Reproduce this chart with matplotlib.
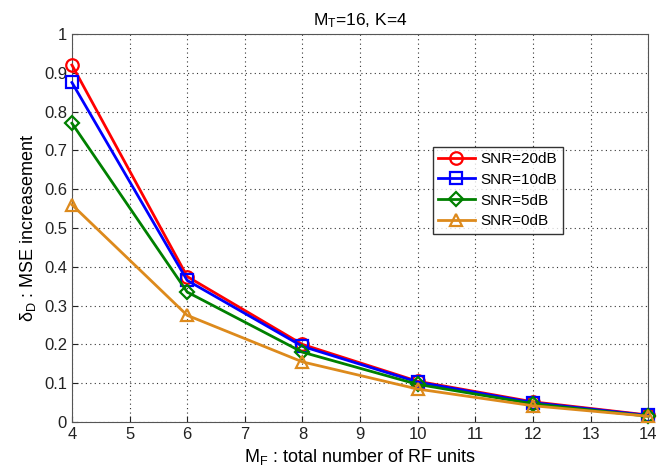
import matplotlib
matplotlib.use("Agg")
import matplotlib.pyplot as plt

# ===== Data ===================================================================

numRF = [4, 6, 8, 10, 12, 14]

snr20 = [0.920, 0.375, 0.200, 0.105, 0.052, 0.018]
snr10 = [0.875, 0.365, 0.195, 0.103, 0.050, 0.017]
snr5 = [0.770, 0.335, 0.180, 0.097, 0.047, 0.015]
snr0 = [0.560, 0.275, 0.155, 0.085, 0.042, 0.015]

xTicks = list(range(4, 15))
yTicks = [0, 0.1, 0.2, 0.3, 0.4, 0.5, 0.6, 0.7, 0.8, 0.9, 1]
yTickLabels = ["0", "0.1", "0.2", "0.3", "0.4", "0.5", "0.6", "0.7", "0.8",
               "0.9", "1"]

# ===== Plot ===================================================================

plt.rcParams["font.family"] = ["Liberation Sans", "DejaVu Sans"]
plt.rcParams["mathtext.fontset"] = "custom"
plt.rcParams["mathtext.rm"] = "Liberation Sans"
plt.rcParams["mathtext.it"] = "Liberation Sans"

fig = plt.figure(figsize=(6.6, 4.76), dpi=100)
ax = fig.add_axes([0.109, 0.1134, 0.873, 0.8152])

series = [
    (snr20, "#ff0000", "o", "SNR=20dB"),
    (snr10, "#0000ff", "s", "SNR=10dB"),
    (snr5, "#008000", "D", "SNR=5dB"),
    (snr0, "#dd8a1c", "^", "SNR=0dB"),
]
for values, color, marker, label in series:
    size = 7 if marker == "D" else 9
    ax.plot(numRF, values, color=color, marker=marker, markersize=size,
            markerfacecolor="none", markeredgewidth=1.6, linewidth=2,
            label=label, clip_on=False, zorder=3)

ax.set_xlim(4, 14)
ax.set_ylim(0, 1)
ax.set_xticks(xTicks)
ax.set_yticks(yTicks)
ax.set_yticklabels(yTickLabels)
ax.tick_params(labelsize=12, direction="in", length=4, colors="#222222")
ax.grid(True, linestyle=(0, (1, 3)), color="#333333", linewidth=0.8)
for spine in ax.spines.values():
    spine.set_color("#555555")

ax.set_title(r"M$_\mathrm{T}$=16, K=4", fontsize=12.5)
ax.set_xlabel(r"M$_\mathrm{F}$ : total number of RF units", fontsize=13)
ax.set_ylabel(r"$\delta_\mathrm{D}$ : MSE increasement", fontsize=13)

leg = ax.legend(loc="upper left", bbox_to_anchor=(0.626, 0.71), fontsize=11,
                frameon=True, fancybox=False, handlelength=2.4,
                borderpad=0.35, labelspacing=0.45, handletextpad=0.4,
                borderaxespad=0)
leg.get_frame().set_edgecolor("#000000")
leg.get_frame().set_linewidth(1.0)
leg.set_zorder(5)

fig.savefig("out.png", dpi=100)
